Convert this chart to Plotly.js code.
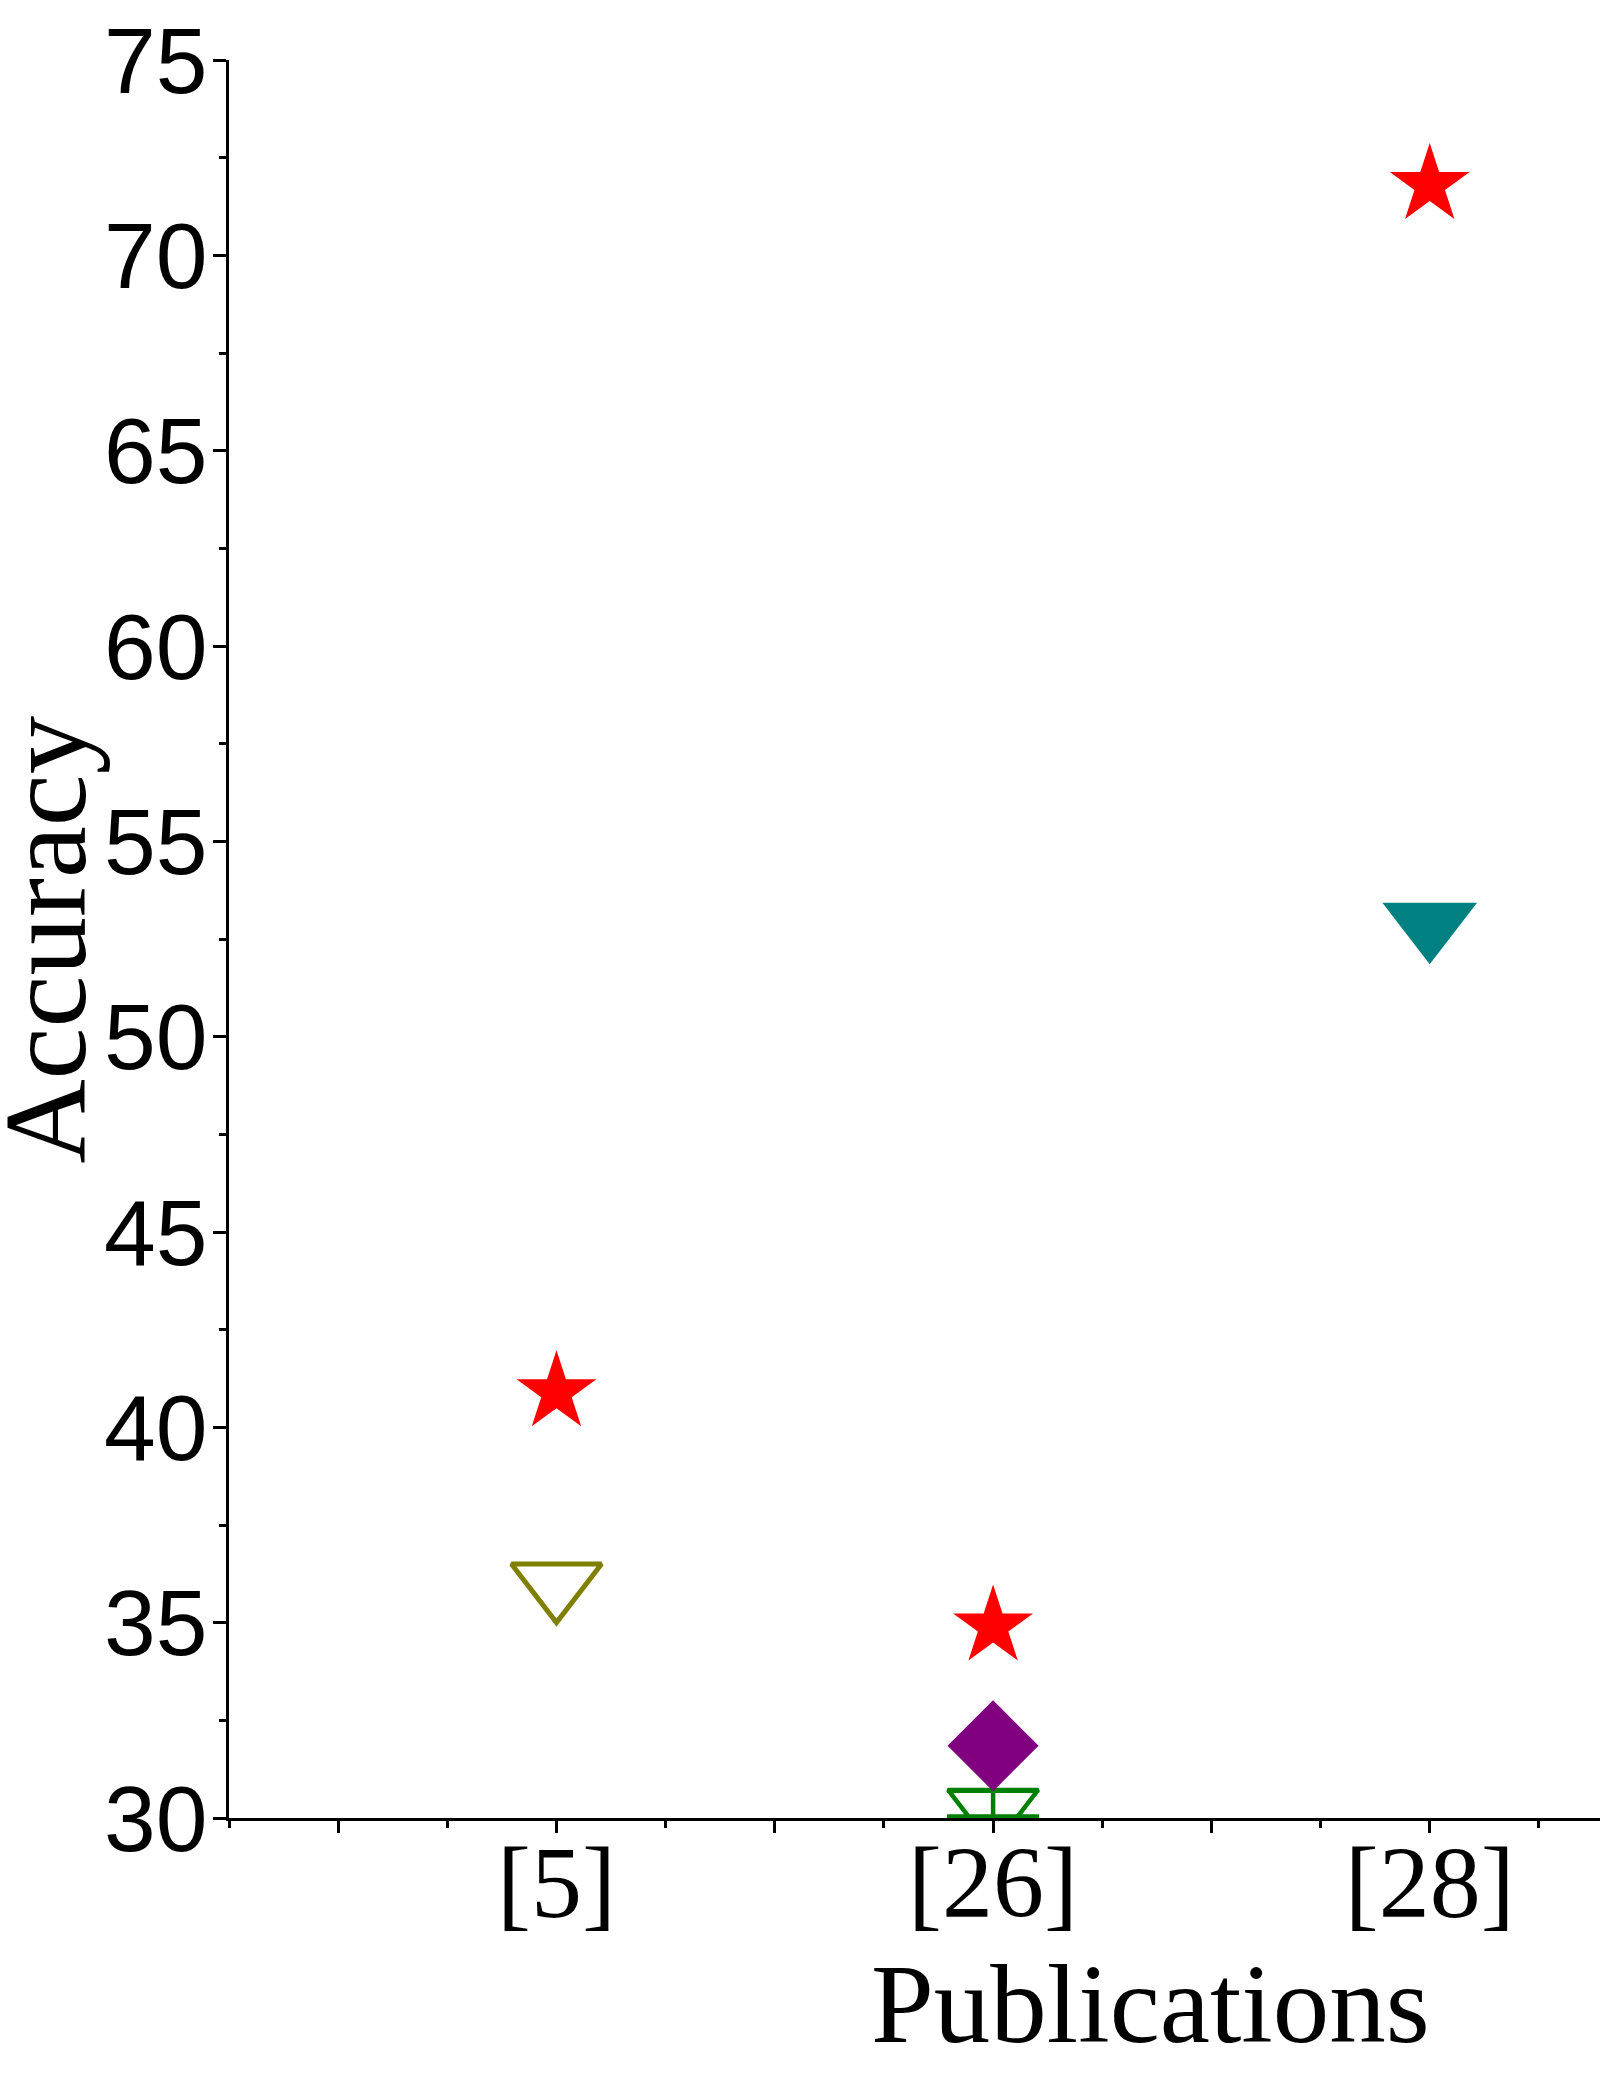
<!DOCTYPE html>
<html>
<head>
<meta charset="utf-8">
<script src="https://cdn.plot.ly/plotly-3.0.1.min.js"></script>
<style>
  body { margin: 0; background: #fff; }
  #graph { width: 1600px; height: 2075px; }
</style>
</head>
<body>
<div id="graph"></div>
<script>
// publications on the x axis, placed at 1, 2, 3
const publications = ['[5]', '[26]', '[28]'];
const pubPos = [1, 2, 3];

// values, one small array per series
const redStarY = [40.9, 34.9, 71.8];
const oliveY = [36.0];        // [5]
const purpleY = [31.85];      // [26]
const greenY = [30.22];       // [26], partly under the axis
const greenErrPlus = [0.48];
const greenErrMinus = [0.18];
const tealY = [52.9];         // [28]

const yTicks = [30, 35, 40, 45, 50, 55, 60, 65, 70, 75];

let trace1 = {
    x: [pubPos[0]],
    y: oliveY,
    type: 'scatter',
    mode: 'markers',
    name: 'olive',
    marker: {symbol: 'triangle-down-open', size: 78, color: '#808000', line: {width: 5, color: '#808000'}}
};
let trace2 = {
    x: [pubPos[1]],
    y: greenY,
    type: 'scatter',
    mode: 'markers',
    name: 'green',
    marker: {symbol: 'triangle-down-open', size: 78, color: '#008000', line: {width: 4.5, color: '#008000'}},
    error_y: {type: 'data', symmetric: false, array: greenErrPlus, arrayminus: greenErrMinus,
        color: '#008000', thickness: 4.5, width: 46}
};
let trace3 = {
    x: [pubPos[1]],
    y: purpleY,
    type: 'scatter',
    mode: 'markers',
    name: 'purple',
    marker: {symbol: 'diamond', size: 70, color: '#800080', line: {width: 0}}
};
let trace4 = {
    x: [pubPos[2]],
    y: tealY,
    type: 'scatter',
    mode: 'markers',
    name: 'teal',
    marker: {symbol: 'triangle-down', size: 82, color: '#008080', line: {width: 0}}
};
let trace5 = {
    x: pubPos,
    y: redStarY,
    type: 'scatter',
    mode: 'markers',
    name: 'red',
    marker: {symbol: 'star', size: 60, color: '#ff0000', line: {width: 0}}
};

// major ticks every 0.5, only the publication ones are labelled
const xTickVals = [];
const xTickText = [];
for (let v = 0.5; v <= 3.01; v += 0.5) {
    xTickVals.push(v);
    const i = pubPos.indexOf(v);
    xTickText.push(i >= 0 ? publications[i] : '');
}

const serif = '"Liberation Serif", "Times New Roman", serif';
const sans = '"Liberation Sans", Arial, sans-serif';

let layout = {
    width: 1600,
    height: 2075,
    showlegend: false,
    paper_bgcolor: '#ffffff',
    plot_bgcolor: '#ffffff',
    margin: {l: 229, r: 0, t: 60, b: 257},
    xaxis: {
        range: [0.25, 3.39],
        tickmode: 'array',
        tickvals: xTickVals,
        ticktext: xTickText,
        ticks: 'outside',
        ticklen: 12,
        tickwidth: 3,
        tickcolor: '#000',
        minor: {tickmode: 'linear', tick0: 0, dtick: 0.25, ticks: 'outside', ticklen: 7, tickwidth: 3, tickcolor: '#000'},
        showline: true,
        linewidth: 3,
        linecolor: '#000',
        showgrid: false,
        zeroline: false,
        tickfont: {family: serif, size: 102, color: '#000'},
        ticklabelstandoff: -38
    },
    yaxis: {
        range: [30, 75],
        tickmode: 'array',
        tickvals: yTicks,
        ticks: 'outside',
        ticklen: 13,
        tickwidth: 3,
        tickcolor: '#000',
        minor: {tickmode: 'linear', tick0: 0, dtick: 2.5, ticks: 'outside', ticklen: 7, tickwidth: 3, tickcolor: '#000'},
        showline: true,
        linewidth: 3,
        linecolor: '#000',
        showgrid: false,
        zeroline: false,
        tickfont: {family: sans, size: 93, color: '#000'},
        ticklabelstandoff: -13
    },
    annotations: [
        {
            text: 'Accuracy',
            xref: 'paper', yref: 'paper',
            x: -0.1343, y: 0.5,
            xanchor: 'center', yanchor: 'middle',
            textangle: -90,
            showarrow: false,
            font: {family: serif, size: 117, color: '#000'}
        },
        {
            text: 'Publications',
            xref: 'paper', yref: 'paper',
            x: 0.6725, y: -0.1058,
            xanchor: 'center', yanchor: 'middle',
            showarrow: false,
            font: {family: serif, size: 113, color: '#000'}
        }
    ]
};

const data12 = [trace1, trace2, trace3, trace4, trace5];
Plotly.newPlot('graph', data12, layout, {staticPlot: true});
</script>
</body>
</html>
